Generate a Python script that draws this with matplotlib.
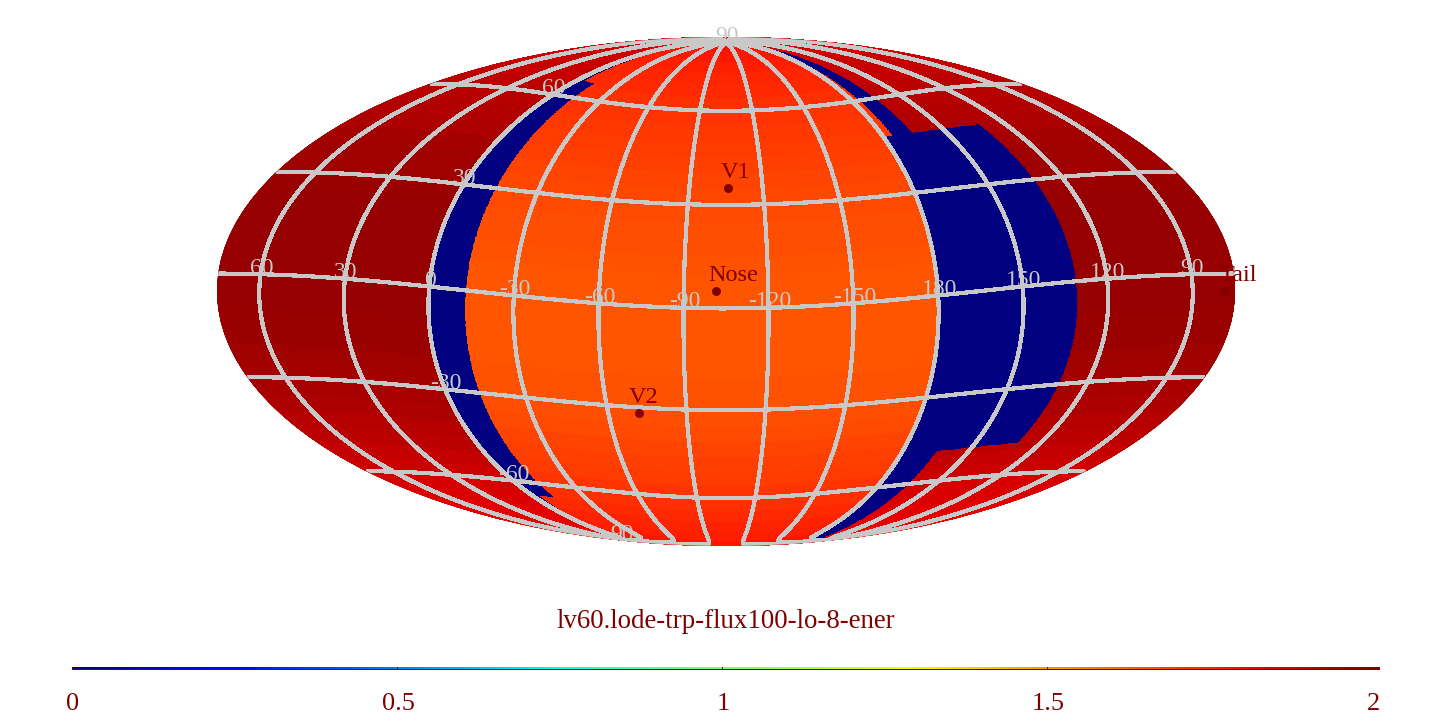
import numpy as np
import matplotlib
matplotlib.use("Agg")
import matplotlib.pyplot as plt

# --- data ---------------------------------------------------------------
title = "lv60.lode-trp-flux100-lo-8-ener"
lon_centre = -105.0
tilt_deg = 5.0

band_lat_edges = [-90, -85, -77, -65, -48, 48, 66, 77, 84, 90]
orange_start = [0, 0, -5, -13, -13, -13, -4, 0, 0]
orange_end = [180, 180, 180, 180, 180, 175, 175, 175, 175]
blue_end = [180, 165, 165, 165, 131, 165, 165, 165, 175]

level_lat_edges = list(range(-90, 91, 5))
inner_levels = [1.790, 1.773, 1.756, 1.744, 1.731, 1.718, 1.706, 1.693, 1.682,
                1.672, 1.663, 1.655, 1.648, 1.644, 1.640, 1.640, 1.640, 1.640,
                1.640, 1.640, 1.644, 1.651, 1.655, 1.661, 1.668, 1.676, 1.684,
                1.693, 1.701, 1.710, 1.718, 1.727, 1.740, 1.752, 1.767, 1.782]
outer_levels = [1.780, 1.796, 1.813, 1.827, 1.839, 1.851, 1.865, 1.879, 1.891,
                1.902, 1.915, 1.928, 1.937, 1.944, 1.950, 1.953, 1.956, 1.958,
                1.959, 1.959, 1.959, 1.958, 1.956, 1.951, 1.945, 1.938, 1.930,
                1.919, 1.909, 1.900, 1.891, 1.880, 1.868, 1.855, 1.839, 1.822]
blue_level = 0.0

meridians = [60, 30, 0, -30, -60, -90, -120, -150, 180, 150, 120, 90]
parallels = [-60, -30, 0, 30, 60]
lat_label_pts = [(0, 30, "30"), (0, 60, "60"), (0, -30, "-30"), (0, -60, "-60"),
                 (0, 90, "90"), (0, -90, "90")]

marker_names = ["Nose", "V1", "V2", "Tail"]
marker_lon = [-101.5, -105.8, -71.9, 78.5]
marker_lat = [5.0, 35.2, -31.7, -5.0]

cbar_ticks = [0, 0.5, 1, 1.5, 2]
cbar_labels = ["0", "0.5", "1", "1.5", "2"]

GREY = "#c8c8c8"
DARK = "#800000"
SERIF = "Liberation Serif"


# --- sky <-> map rotation -----------------------------------------------
def wrap(a):
    return (np.asarray(a, float) + 180.0) % 360.0 - 180.0


sb, cb = np.sin(np.radians(tilt_deg)), np.cos(np.radians(tilt_deg))


def sky_to_map(lon, lat):
    d = np.radians(wrap(lon_centre - np.asarray(lon, float)))
    la = np.radians(np.asarray(lat, float))
    x, y, z = np.cos(la) * np.cos(d), np.cos(la) * np.sin(d), np.sin(la)
    xp, zp = x * cb + z * sb, z * cb - x * sb
    return np.arctan2(y, xp), np.arcsin(np.clip(zp, -1, 1))


def map_to_sky(mlon, mlat):
    xp, y, zp = np.cos(mlat) * np.cos(mlon), np.cos(mlat) * np.sin(mlon), np.sin(mlat)
    x, z = xp * cb - zp * sb, zp * cb + xp * sb
    return np.degrees(np.arctan2(y, x)), np.degrees(np.arcsin(np.clip(z, -1, 1)))


# --- figure -------------------------------------------------------------
W, H = 1452, 728
fig = plt.figure(figsize=(W / 100, H / 100), dpi=100, facecolor="white")
ax = fig.add_axes([216 / W, (H - 545.5) / H, 1020 / W, 509 / H], projection="mollweide")
ax.grid(False)
ax.set_xticklabels([])
ax.set_yticklabels([])
ax.tick_params(length=0)
for s in ax.spines.values():
    s.set_visible(False)

# value field on a fine map grid, looked up from the sky-frame bands
mx = np.radians(np.linspace(-180, 180, 1601))
my = np.radians(np.linspace(-90, 90, 801))
cx, cy = np.meshgrid(0.5 * (mx[:-1] + mx[1:]), 0.5 * (my[:-1] + my[1:]))
d, lat = map_to_sky(cx, cy)

band = np.clip(np.searchsorted(band_lat_edges, lat) - 1, 0, len(orange_start) - 1)
row = np.clip(np.searchsorted(level_lat_edges, lat) - 1, 0, len(inner_levels) - 1)
d_blue_left = wrap(lon_centre - 0.0)
d_in_left = wrap(lon_centre - np.array(orange_start))[band]
d_in_right = wrap(lon_centre - np.array(orange_end))[band]
d_out_right = wrap(lon_centre - np.array(blue_end))[band]

val = np.array(outer_levels)[row]
val = np.where((d >= d_blue_left) & (d <= d_out_right), blue_level, val)
inner = (d >= d_in_left) & (d <= d_in_right)
val = np.where(inner, np.array(inner_levels)[row], val)

ax.pcolormesh(mx, my, val, cmap="jet", vmin=0, vmax=2, shading="flat",
              edgecolors="face", linewidth=0.3, antialiased=False, rasterized=True, zorder=1)


# graticule
def draw_curve(lon, lat):
    a, b = sky_to_map(lon, lat)
    jump = np.abs(np.diff(a)) > np.pi
    a = np.insert(a, np.where(jump)[0] + 1, np.nan)
    b = np.insert(b, np.where(jump)[0] + 1, np.nan)
    ax.plot(a, b, color=GREY, lw=2.3, antialiased=False, zorder=3,
            solid_capstyle="butt", solid_joinstyle="round")


for m in meridians:
    la = np.linspace(-90, 90, 721)
    draw_curve(np.full_like(la, m, dtype=float), la)
for p in parallels:
    lo = np.linspace(-180, 180, 1441)
    draw_curve(lo, np.full_like(lo, p, dtype=float))


def grey_label(lon, lat, s):
    a, b = sky_to_map(lon, lat)
    ax.annotate(s, (float(a), float(b)), xytext=(0.7, 4.3), textcoords="offset points",
                ha="center", va="center", color=GREY, fontsize=17, family=SERIF, zorder=4)


for m in meridians:
    grey_label(m, 0, str(m))
for lo, la, s in lat_label_pts:
    grey_label(lo, la, s)

# named points
mk_a, mk_b = sky_to_map(marker_lon, marker_lat)
ax.scatter(mk_a, mk_b, s=42, color=DARK, linewidths=0, zorder=5, clip_on=False)
name_shift = {"Nose": (12, 10.8), "V1": (5.5, 10.8), "V2": (3.5, 10.8), "Tail": (9.5, 11.3)}
for n, a, b in zip(marker_names, mk_a, mk_b):
    ax.annotate(n, (float(a), float(b)), xytext=name_shift[n], textcoords="offset points",
                ha="center", va="center", color=DARK, fontsize=17.5, family=SERIF, zorder=6)

# title
fig.text(726 / W, 1 - 621 / H, title, ha="center", va="center", color=DARK,
         fontsize=19.4, family=SERIF)

# colour bar: two rows of gradient above one dark row
cax = fig.add_axes([72 / W, 1 - 670 / H, (1380 - 72) / W, 3.0 / H])
x_end = 2 * (1380 - 72) / (1372.5 - 72)
grad = np.linspace(0, x_end, 1024)
centres = 0.5 * (grad[:-1] + grad[1:])
rows = np.vstack([np.full_like(centres, 2.0), centres, centres])
cax.pcolormesh(grad, [0, 1, 2, 3], rows, cmap="jet", vmin=0, vmax=2, shading="flat",
               antialiased=False)
cax.set_xlim(0, x_end)
cax.set_ylim(0, 3)
cax.set_yticks([])
cax.set_xticks([])
for s in cax.spines.values():
    s.set_visible(False)
for t in cbar_ticks:
    cax.axvline(t, color=DARK, lw=0.7)
for t, s in zip(cbar_ticks, cbar_labels):
    cax.annotate(s, (t, 0), xycoords=("data", "axes fraction"), xytext=(0.7, -24.2),
                 textcoords="offset points", ha="center", va="center",
                 color=DARK, fontsize=19, family=SERIF, annotation_clip=False)

fig.savefig("out.png", dpi=100, facecolor="white")
